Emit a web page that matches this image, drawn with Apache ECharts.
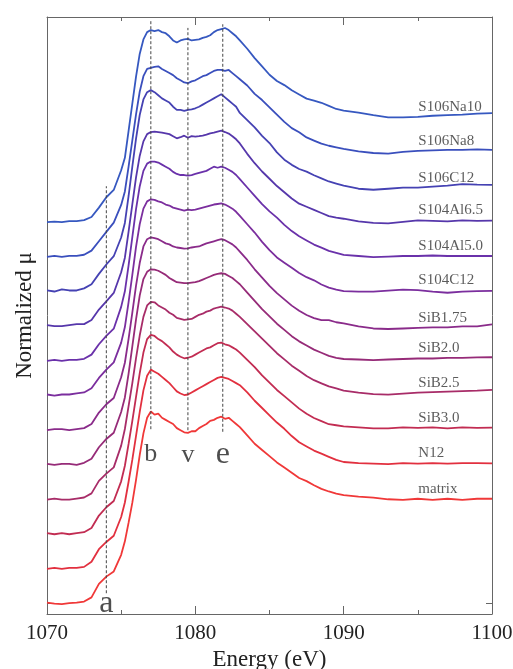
<!DOCTYPE html>
<html><head><meta charset="utf-8">
<script src="https://cdn.jsdelivr.net/npm/echarts@6/dist/echarts.min.js"></script>
<style>html,body{margin:0;padding:0;background:#fff}#c{width:513px;height:669px}</style>
</head><body><div id="c"></div>
<script>
const energies = [1070,1070.5,1071,1071.5,1072,1072.5,1073,1073.5,1074,1074.5,
1075,1075.25,1075.5,1075.75,1076,1076.25,1076.5,1076.75,1077,1077.25,1077.5,1077.75,1078,1078.25,1078.5,1078.75,1079,1079.25,1079.5,1079.75,1080,1080.25,1080.5,1080.75,1081,1081.25,1081.5,1081.75,1082,1082.25,1082.5,1082.75,
1083,1083.5,1084,1084.5,1085,1085.5,1086,1086.5,1087,1087.5,1088,1088.5,1089,1089.5,1090,
1091,1092,1093,1094,1095,1096,1097,1098,1099,1100];

const sampleNames = ['matrix','N12','SiB3.0','SiB2.5','SiB2.0','SiB1.75','S104C12','S104Al5.0','S104Al6.5','S106C12','S106Na8','S106Na10'];

const matrix = [0.01,0.00,-0.005,0.005,0.01,0.02,0.06,0.19,0.26,0.31,
0.47,0.60,0.78,0.97,1.19,1.43,1.64,1.79,1.85,1.82,1.83,1.79,1.77,1.75,1.73,1.69,1.67,1.65,1.645,1.66,1.66,1.69,1.71,1.73,1.76,1.77,1.79,1.80,1.78,1.79,1.76,1.73,
1.70,1.62,1.54,1.48,1.42,1.36,1.31,1.26,1.21,1.18,1.14,1.105,1.08,1.06,1.045,
1.03,1.02,1.005,1.00,1.01,1.00,1.01,1.00,1.01,1.01];

const N12 = [0.00,0.01,0.00,0.01,0.01,0.02,0.07,0.19,0.26,0.32,
0.50,0.64,0.84,1.05,1.28,1.51,1.72,1.86,1.92,1.90,1.88,1.85,1.82,1.79,1.75,1.71,1.69,1.675,1.68,1.70,1.72,1.74,1.76,1.78,1.80,1.82,1.84,1.85,1.84,1.83,1.81,1.79,
1.77,1.70,1.62,1.55,1.48,1.41,1.35,1.28,1.22,1.18,1.14,1.11,1.08,1.05,1.03,
1.02,1.015,1.01,1.02,1.015,1.02,1.015,1.02,1.02,1.017];

const SiB30 = [0.01,0.00,0.01,0.00,0.01,0.02,0.06,0.18,0.26,0.32,
0.51,0.66,0.87,1.09,1.32,1.55,1.75,1.88,1.92,1.91,1.88,1.86,1.83,1.80,1.76,1.73,1.71,1.695,1.70,1.71,1.73,1.75,1.77,1.79,1.80,1.82,1.84,1.845,1.83,1.82,1.80,1.78,
1.75,1.68,1.61,1.53,1.46,1.39,1.33,1.27,1.21,1.16,1.12,1.09,1.06,1.05,1.04,
1.03,1.02,1.02,1.03,1.025,1.03,1.02,1.03,1.025,1.027];

const SiB25 = [0.00,0.01,0.00,0.00,0.01,0.02,0.06,0.18,0.25,0.31,
0.52,0.68,0.90,1.12,1.36,1.58,1.76,1.87,1.905,1.90,1.87,1.85,1.83,1.80,1.78,1.75,1.74,1.73,1.735,1.74,1.76,1.78,1.79,1.81,1.82,1.84,1.85,1.858,1.85,1.84,1.82,1.79,
1.76,1.69,1.62,1.55,1.48,1.41,1.35,1.29,1.24,1.19,1.15,1.12,1.09,1.07,1.05,
1.03,1.015,1.01,1.02,1.03,1.035,1.04,1.045,1.05,1.056];

const SiB20 = [0.01,0.00,0.01,0.01,0.00,0.02,0.06,0.17,0.25,0.31,
0.51,0.65,0.88,1.14,1.40,1.63,1.79,1.86,1.884,1.88,1.87,1.85,1.83,1.80,1.78,1.76,1.755,1.75,1.75,1.755,1.76,1.77,1.785,1.80,1.815,1.83,1.84,1.846,1.84,1.82,1.80,1.77,
1.74,1.66,1.58,1.50,1.43,1.36,1.30,1.24,1.19,1.15,1.11,1.08,1.05,1.03,1.02,
1.015,1.01,1.015,1.02,1.025,1.025,1.03,1.03,1.035,1.037];

const SiB175 = [0.00,0.01,0.01,0.00,0.01,0.02,0.06,0.17,0.25,0.31,
0.51,0.65,0.88,1.13,1.39,1.61,1.77,1.84,1.858,1.85,1.84,1.82,1.80,1.79,1.77,1.76,1.755,1.75,1.752,1.76,1.765,1.77,1.785,1.80,1.81,1.82,1.83,1.84,1.83,1.81,1.79,1.76,
1.72,1.64,1.55,1.47,1.39,1.32,1.26,1.20,1.15,1.11,1.08,1.06,1.06,1.04,1.03,
1.00,0.98,0.975,0.98,0.985,0.99,0.99,1.00,1.00,1.02];

const S104C12 = [0.01,0.00,0.01,0.01,0.02,0.03,0.07,0.17,0.25,0.32,
0.51,0.66,0.90,1.16,1.43,1.65,1.80,1.87,1.89,1.885,1.87,1.86,1.84,1.83,1.81,1.80,1.79,1.78,1.79,1.785,1.79,1.80,1.81,1.82,1.83,1.84,1.845,1.85,1.84,1.82,1.80,1.77,
1.73,1.65,1.57,1.48,1.40,1.33,1.28,1.23,1.18,1.14,1.11,1.07,1.04,1.02,1.005,
1.00,1.00,1.01,1.02,1.015,1.00,0.99,1.00,1.005,1.008];

const S104Al50 = [0.00,0.01,0.00,0.01,0.01,0.02,0.06,0.16,0.24,0.31,
0.52,0.67,0.92,1.19,1.46,1.68,1.83,1.90,1.92,1.92,1.91,1.89,1.87,1.85,1.82,1.80,1.79,1.79,1.785,1.79,1.80,1.81,1.82,1.83,1.85,1.87,1.86,1.87,1.86,1.84,1.82,1.79,
1.75,1.67,1.59,1.51,1.44,1.38,1.31,1.25,1.20,1.16,1.12,1.09,1.06,1.04,1.02,
1.01,1.00,1.005,1.01,1.01,1.015,1.01,1.01,1.01,1.01];

const S104Al65 = [0.01,0.00,0.00,0.01,0.02,0.02,0.06,0.16,0.24,0.32,
0.52,0.66,0.91,1.17,1.43,1.64,1.78,1.85,1.87,1.874,1.87,1.865,1.858,1.85,1.83,1.81,1.82,1.835,1.815,1.83,1.826,1.83,1.835,1.845,1.858,1.865,1.875,1.883,1.87,1.855,1.83,1.80,
1.76,1.66,1.57,1.49,1.42,1.35,1.29,1.23,1.18,1.15,1.12,1.09,1.06,1.045,1.035,
1.01,0.995,0.99,1.005,1.02,1.015,1.01,1.02,1.015,1.016];

const S106C12 = [0.01,0.00,0.02,0.01,0.01,0.03,0.07,0.17,0.26,0.34,
0.52,0.66,0.92,1.20,1.47,1.70,1.85,1.92,1.94,1.92,1.89,1.86,1.84,1.82,1.78,1.75,1.75,1.74,1.75,1.755,1.765,1.78,1.80,1.82,1.84,1.86,1.88,1.90,1.87,1.84,1.81,1.78,
1.72,1.65,1.58,1.50,1.43,1.34,1.27,1.22,1.18,1.155,1.12,1.09,1.06,1.04,1.02,
0.99,0.98,0.99,1.00,1.00,1.01,1.02,1.035,1.03,1.027];

const S106Na8 = [0.00,0.01,0.00,0.01,0.01,0.02,0.06,0.15,0.24,0.33,
0.50,0.63,0.87,1.12,1.37,1.59,1.74,1.81,1.82,1.83,1.835,1.81,1.79,1.77,1.75,1.72,1.70,1.68,1.672,1.69,1.70,1.72,1.74,1.75,1.77,1.79,1.80,1.80,1.79,1.80,1.77,1.74,
1.71,1.65,1.57,1.51,1.44,1.37,1.30,1.24,1.20,1.15,1.12,1.09,1.07,1.055,1.04,
1.015,1.00,0.995,1.01,1.02,1.025,1.03,1.03,1.035,1.03];

const S106Na10 = [0.00,0.005,0.00,0.01,0.01,0.02,0.05,0.14,0.24,0.31,
0.50,0.62,0.88,1.14,1.40,1.62,1.76,1.83,1.85,1.84,1.85,1.83,1.82,1.79,1.75,1.73,1.75,1.76,1.765,1.75,1.755,1.76,1.775,1.785,1.80,1.83,1.85,1.86,1.87,1.85,1.82,1.79,
1.75,1.67,1.58,1.50,1.42,1.36,1.32,1.27,1.23,1.19,1.17,1.15,1.12,1.09,1.075,
1.055,1.03,1.01,1.01,1.015,1.025,1.03,1.035,1.045,1.05];

const spectra = [matrix, N12, SiB30, SiB25, SiB20, SiB175, S104C12, S104Al50, S104Al65, S106C12, S106Na8, S106Na10];

const markerNames = ['a','b','v','e'];
const markerE = [1074.0, 1077.0, 1079.5, 1081.85];
const markerLow = [0.10, 1.68, 1.67, 1.655];
const markerHigh = [4.02, 5.61, 5.545, 5.58];

const xTickValues = [1070, 1080, 1090, 1100];
const labelEnergy = 1095;
const offsetStep = 0.334;

const colors = ['#f03838','#e2303f','#c22c52','#a82c68','#962b78','#8a2b8a','#7b2e9e','#6a31aa','#5637ab','#4542b3','#3a4fbd','#3658c0'];
const serif = 'Liberation Serif';
const letterSizes = [32, 26, 26, 32];
const letterOffsets = [10, 25, 25, 23];

const chart = echarts.init(document.getElementById('c'), null, {renderer: 'canvas'});
const labelIdx = energies.indexOf(labelEnergy);

const series = [];
spectra.forEach((vals, i) => {
  series.push({
    type: 'line', name: sampleNames[i], symbol: 'none', silent: true,
    data: energies.map((e, j) => [e, vals[j] + i * offsetStep]),
    lineStyle: {color: colors[i], width: 1.8}, z: 3
  });
});
series.push({
  type: 'scatter', symbolSize: 1, silent: true, z: 5,
  itemStyle: {color: 'rgba(0,0,0,0)'},
  data: spectra.map((vals, i) => ({name: sampleNames[i], value: [labelEnergy, vals[labelIdx] + i * offsetStep]})),
  label: {show: true, position: 'right', distance: 0, offset: [0, -10], formatter: '{b}',
    fontFamily: serif, fontSize: 15, color: '#333'}
});
markerE.forEach((e, k) => {
  series.push({
    type: 'line', symbol: 'none', silent: true, z: 4,
    data: [[e, markerLow[k]], [e, markerHigh[k]]],
    lineStyle: {color: '#444', width: 1, type: [3, 2]}
  });
});
series.push({
  type: 'scatter', symbolSize: 1, silent: true, z: 5,
  itemStyle: {color: 'rgba(0,0,0,0)'},
  data: markerE.map((e, k) => ({name: markerNames[k], value: [e, markerLow[k]],
    label: {offset: [0, letterOffsets[k]], fontSize: letterSizes[k]}})),
  label: {show: true, position: 'inside', formatter: '{b}', fontFamily: serif, fontSize: 26, color: '#222'}
});

const axisColor = '#666';
const xBase = {
  type: 'value', min: 1070, max: 1100, interval: 10,
  axisLine: {show: true, onZero: false, lineStyle: {color: axisColor, width: 1}},
  axisTick: {show: true, inside: true, length: 8, lineStyle: {color: axisColor}},
  minorTick: {show: true, splitNumber: 2, length: 4, lineStyle: {color: axisColor}},
  splitLine: {show: false}, minorSplitLine: {show: false}
};
const yBase = {
  type: 'value', min: -0.1, max: 5.65,
  axisLine: {show: true, onZero: false, lineStyle: {color: axisColor, width: 1}},
  axisTick: {show: true, inside: true, length: 6, customValues: [0], lineStyle: {color: axisColor}},
  axisLabel: {show: false},
  splitLine: {show: false}
};

chart.setOption({
  animation: false,
  backgroundColor: '#fff',
  grid: {left: 47, right: 21, top: 17, bottom: 55, containLabel: false, outerBoundsMode: 'none'},
  xAxis: [
    Object.assign({}, xBase, {position: 'bottom',
      axisLabel: {show: true, customValues: xTickValues, formatter: v => String(v),
        fontFamily: serif, fontSize: 21, color: '#222', margin: 9},
      name: 'Energy (eV)', nameLocation: 'middle', nameGap: 30,
      nameTextStyle: {fontFamily: serif, fontSize: 23, color: '#222'}}),
    Object.assign({}, xBase, {position: 'top', axisLabel: {show: false}})
  ],
  yAxis: [
    Object.assign({}, yBase, {position: 'left', name: 'Normalized μ', nameLocation: 'middle', nameGap: 11,
      nameTextStyle: {fontFamily: serif, fontSize: 23, color: '#222'}}),
    Object.assign({}, yBase, {position: 'right'})
  ],
  series: series
});
</script></body></html>
